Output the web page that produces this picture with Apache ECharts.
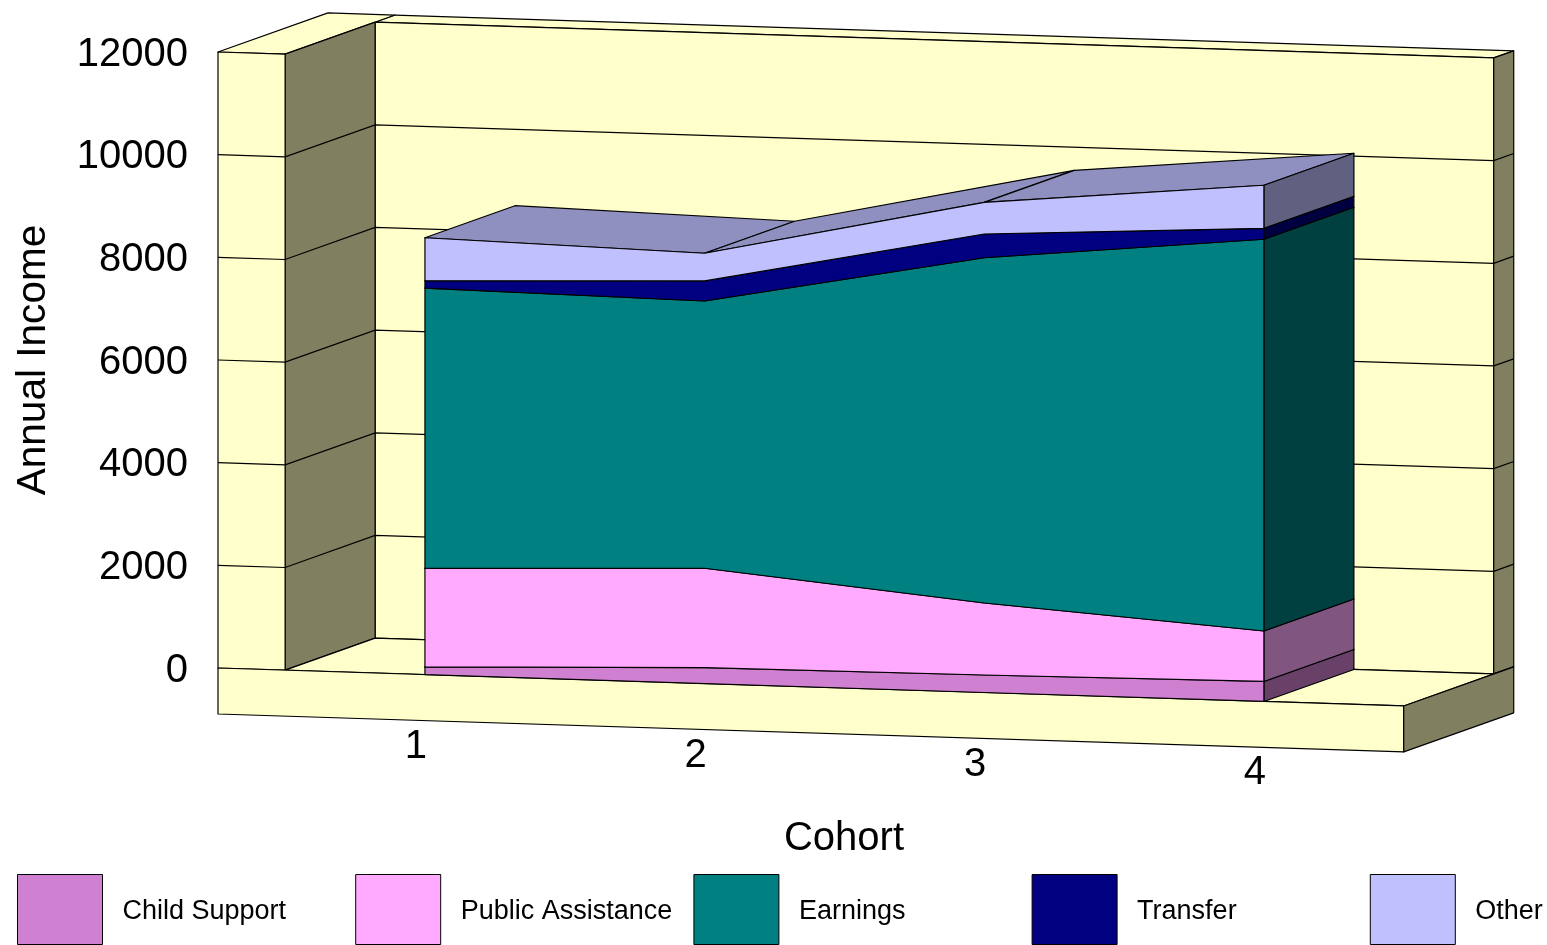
<!DOCTYPE html>
<html>
<head>
<meta charset="utf-8">
<title>Annual Income by Cohort</title>
<script src="https://cdn.jsdelivr.net/npm/echarts@6/dist/echarts.min.js"></script>
<style>
  html, body { margin: 0; padding: 0; background: #fff; }
  #chart { width: 1547px; height: 945px; }
</style>
</head>
<body>
<div id="chart"></div>
<script>
// Income components per cohort (stacked from the bottom up)
const cohorts = [1, 2, 3, 4];
const childSupport = [150, 310, 341, 390];
const publicAssistance = [1921, 1936, 1403, 983];
const earnings = [5460, 5207, 6726, 7631];
const transfer = [142, 390, 462, 214];
const other = [838, 540, 617, 838];
const valueTicks = [0, 2000, 4000, 6000, 8000, 10000, 12000];

const FONT = '"Liberation Sans", Arial, sans-serif';
const EDGE_WIDTH = 1.2;

// Oblique projection: the floor runs slightly downhill and depth recedes up and right
const SHEAR = 0.032;
const DEPTH_RISE = 0.3556;
const AREA_DEPTH = 90;
const BOX_DEPTH = 110;

// Box extents in axis units
const X_MIN = 0.26;
const X_MAX = 4.737;
const WALL_X = 0.5;
const RIGHT_X = 4.5;
const TOP_V = 12000;
const FLOOR_V = -896;

const WALL = '#FFFFCC';
const WALL_SHADE = '#808060';

const layers = [
  { name: 'Child Support', values: childSupport, front: '#D080D0', side: '#684068', top: '#9C609C' },
  { name: 'Public Assistance', values: publicAssistance, front: '#FFAAFF', side: '#805580', top: '#C080C0' },
  { name: 'Earnings', values: earnings, front: '#008080', side: '#004040', top: '#006060' },
  { name: 'Transfer', values: transfer, front: '#000080', side: '#000040', top: '#000060' },
  { name: 'Other', values: other, front: '#C0C0FF', side: '#606080', top: '#9090C0' }
];

function project(api, x, v, d) {
  const p = api.coord([x, v]);
  const originX = api.coord([X_MIN, 0])[0];
  return [p[0] + d, p[1] + (p[0] - originX) * SHEAR - d * DEPTH_RISE];
}

function face(points, fill) {
  return {
    type: 'polygon',
    shape: { points: points },
    style: { fill: fill, stroke: '#000', lineWidth: EDGE_WIDTH, lineJoin: 'round' }
  };
}

// Walls, floor and the value gridlines that run across them
function renderFrame(params, api) {
  const P = (x, v, d) => project(api, x, v, d);
  const children = [];
  if (params.dataIndex === 0) {
    children.push(
      face([P(WALL_X, TOP_V, AREA_DEPTH), P(WALL_X, TOP_V, BOX_DEPTH), P(RIGHT_X, TOP_V, BOX_DEPTH), P(RIGHT_X, TOP_V, AREA_DEPTH)], WALL),
      face([P(WALL_X, TOP_V, AREA_DEPTH), P(RIGHT_X, TOP_V, AREA_DEPTH), P(RIGHT_X, 0, AREA_DEPTH), P(WALL_X, 0, AREA_DEPTH)], WALL),
      face([P(RIGHT_X, TOP_V, AREA_DEPTH), P(RIGHT_X, TOP_V, BOX_DEPTH), P(RIGHT_X, 0, BOX_DEPTH), P(RIGHT_X, 0, AREA_DEPTH)], WALL_SHADE),
      face([P(X_MIN, TOP_V, 0), P(X_MIN, TOP_V, BOX_DEPTH), P(WALL_X, TOP_V, BOX_DEPTH), P(WALL_X, TOP_V, 0)], WALL),
      face([P(WALL_X, TOP_V, 0), P(WALL_X, TOP_V, AREA_DEPTH), P(WALL_X, 0, AREA_DEPTH), P(WALL_X, 0, 0)], WALL_SHADE),
      face([P(X_MIN, TOP_V, 0), P(WALL_X, TOP_V, 0), P(WALL_X, 0, 0), P(X_MIN, 0, 0)], WALL),
      face([P(WALL_X, 0, 0), P(WALL_X, 0, AREA_DEPTH), P(RIGHT_X, 0, AREA_DEPTH), P(RIGHT_X, 0, BOX_DEPTH), P(RIGHT_X, 0, 0)], WALL),
      face([P(X_MIN, 0, 0), P(RIGHT_X, 0, 0), P(RIGHT_X, FLOOR_V, 0), P(X_MIN, FLOOR_V, 0)], WALL),
      face([P(RIGHT_X, 0, 0), P(RIGHT_X, 0, BOX_DEPTH), P(RIGHT_X, FLOOR_V, BOX_DEPTH), P(RIGHT_X, FLOOR_V, 0)], WALL_SHADE)
    );
  }
  const v = api.value(1);
  if (v > 0 && v < TOP_V) {
    children.push({
      type: 'polyline',
      shape: { points: [P(X_MIN, v, 0), P(WALL_X, v, 0), P(WALL_X, v, AREA_DEPTH), P(RIGHT_X, v, AREA_DEPTH), P(RIGHT_X, v, BOX_DEPTH)] },
      style: { fill: null, stroke: '#000', lineWidth: EDGE_WIDTH }
    });
  }
  return { type: 'group', children: children };
}

// One stacked band: top faces per segment, then the end face and the whole front
function bandRenderer(layer, bases, tops) {
  return function (params, api) {
    const P = (x, v, d) => project(api, x, v, d);
    const i = params.dataIndex;
    const last = cohorts.length - 1;
    const children = [];
    if (i < last) {
      children.push(face([
        P(cohorts[i], tops[i], 0), P(cohorts[i], tops[i], AREA_DEPTH),
        P(cohorts[i + 1], tops[i + 1], AREA_DEPTH), P(cohorts[i + 1], tops[i + 1], 0)
      ], layer.top));
    } else {
      children.push(face([
        P(cohorts[i], tops[i], 0), P(cohorts[i], tops[i], AREA_DEPTH),
        P(cohorts[i], bases[i], AREA_DEPTH), P(cohorts[i], bases[i], 0)
      ], layer.side));
      const upper = cohorts.map((c, k) => P(c, tops[k], 0));
      const lower = cohorts.map((c, k) => P(c, bases[k], 0)).reverse();
      children.push(face(upper.concat(lower), layer.front));
    }
    return { type: 'group', children: children };
  };
}

// Cohort numbers sit below the sloping floor, so they follow the projection too
function renderCohortLabel(params, api) {
  const c = api.value(0);
  const p = project(api, c, 0, 0);
  return {
    type: 'text',
    style: {
      x: p[0] - 9, y: p[1] + 72, text: String(c),
      fill: '#000', fontSize: 40, fontFamily: FONT,
      align: 'center', verticalAlign: 'middle'
    }
  };
}

const running = cohorts.map(() => 0);
const bandSeries = layers.map(layer => {
  const bases = running.slice();
  layer.values.forEach((val, k) => { running[k] += val; });
  const tops = running.slice();
  return {
    type: 'custom',
    name: layer.name,
    silent: true,
    itemStyle: { color: layer.front },
    renderItem: bandRenderer(layer, bases, tops),
    data: cohorts.map((c, k) => [c, bases[k], tops[k]]),
    encode: { x: 0, y: [1, 2] }
  };
});

const chart = echarts.init(document.getElementById('chart'), null, { renderer: 'canvas' });
chart.setOption({
  animation: false,
  backgroundColor: '#fff',
  textStyle: { fontFamily: FONT, color: '#000' },
  grid: { left: 218, top: 52, width: 1252, height: 616, containLabel: false },
  xAxis: {
    type: 'value',
    min: X_MIN,
    max: X_MAX,
    name: 'Cohort',
    nameLocation: 'middle',
    nameGap: 151,
    nameTextStyle: { fontSize: 40, fontFamily: FONT, color: '#000' },
    axisLine: { show: false },
    axisTick: { show: false },
    axisLabel: { show: false },
    splitLine: { show: false }
  },
  yAxis: {
    type: 'value',
    min: 0,
    max: 12000,
    interval: 2000,
    name: 'Annual Income',
    nameLocation: 'middle',
    nameRotate: 90,
    nameGap: 184,
    nameTextStyle: { fontSize: 40.6, fontFamily: FONT, color: '#000', verticalAlign: 'middle' },
    axisLine: { show: false },
    axisTick: { show: false },
    axisLabel: {
      show: true, margin: 30, fontSize: 40, fontFamily: FONT, color: '#000',
      verticalAlign: 'top',
      lineHeight: 5,
      formatter: value => String(value)
    },
    splitLine: { show: false }
  },
  legend: layers.map((layer, i) => ({
    data: [layer.name],
    left: 17 + 338.2 * i,
    top: 874,
    padding: 0,
    itemWidth: 85,
    itemHeight: 70,
    icon: 'rect',
    selectedMode: false,
    itemStyle: { borderColor: '#000', borderWidth: 1 },
    formatter: '{label|{name}}',
    textStyle: {
      rich: { label: { fontSize: 27, fontFamily: FONT, color: '#000', padding: [4, 0, 0, 15] } }
    }
  })),
  series: [
    {
      type: 'custom',
      name: 'Frame',
      silent: true,
      renderItem: renderFrame,
      data: valueTicks.map(v => [1, v]),
      encode: { x: 0, y: 1 }
    }
  ].concat(bandSeries, [
    {
      type: 'custom',
      name: 'Cohort labels',
      silent: true,
      renderItem: renderCohortLabel,
      data: cohorts.map(c => [c, 0]),
      encode: { x: 0, y: 1 }
    }
  ])
});
</script>
</body>
</html>
